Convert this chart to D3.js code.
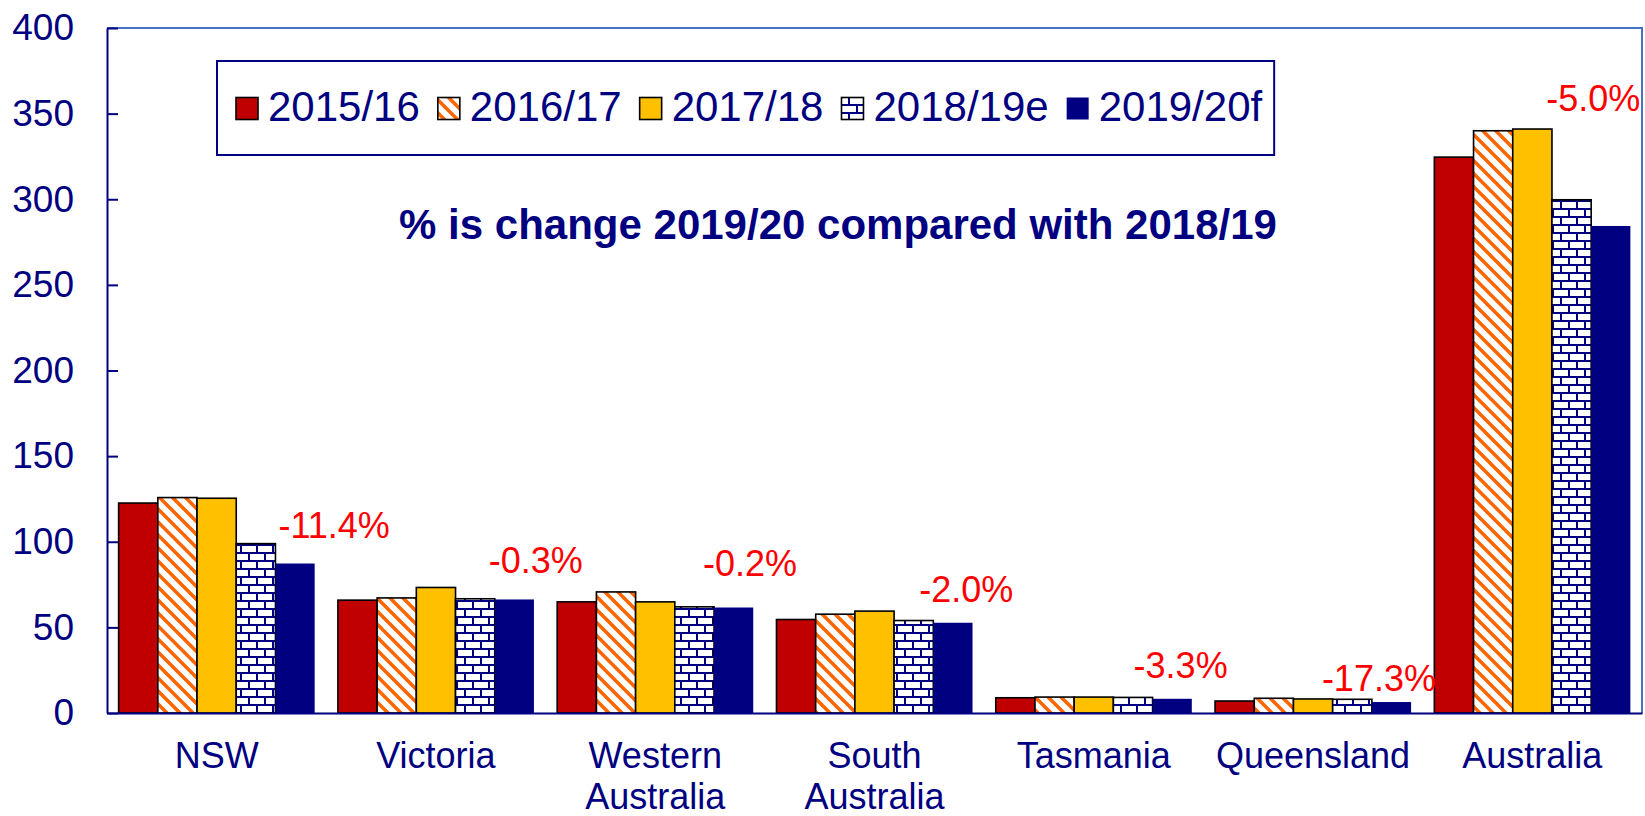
<!DOCTYPE html>
<html>
<head>
<meta charset="utf-8">
<script src="https://cdn.jsdelivr.net/npm/d3@7"></script>
<style>
  body { margin: 0; background: #fff; }
  text { font-family: "Liberation Sans", Arial, sans-serif; }
</style>
</head>
<body>
<div id="container"></div>
<script>
/* DATA */
const categories = ["NSW", "Victoria", "Western Australia", "South Australia", "Tasmania", "Queensland", "Australia"];
const seriesNames = ["2015/16", "2016/17", "2017/18", "2018/19e", "2019/20f"];
const v1516 = [122.6, 65.9, 64.9, 54.6, 8.9, 7.0, 324.6];
const v1617 = [125.8, 67.2, 70.7, 57.7, 9.3, 8.6, 340.0];
const v1718 = [125.4, 73.3, 64.9, 59.5, 9.3, 8.2, 341.0];
const v1819 = [98.9, 66.7, 62.0, 54.0, 9.1, 8.0, 299.7];
const v1920 = [87.3, 66.3, 61.6, 52.7, 8.3, 6.4, 284.4];
const changeLabels = ["-11.4%", "-0.3%", "-0.2%", "-2.0%", "-3.3%", "-17.3%", "-5.0%"];
const yTicks = [0, 50, 100, 150, 200, 250, 300, 350, 400];
const titleText = "% is change 2019/20 compared with 2018/19";

/* CONSTANTS AND GLOBALS */
const width = 1645, height = 816;
const plot = { left: 107, right: 1642, top: 28, bottom: 713 };
const navy = "#000080";
const seriesValues = [v1516, v1617, v1718, v1819, v1920];
const seriesFill = ["#C00000", "url(#hatch)", "#FFC000", "url(#brick)", navy];
const seriesStroke = ["#000", "#000", "#000", "#000", "none"];
// where each % label sits, relative to the top-left corner of its 2019/20f bar
const labelNudge = [[3, -25], [-6, -26], [-11, -32], [-14, -21], [-19, -21], [-50, -11], [-45, -115]];

const svg = d3.select("#container")
  .append("svg")
  .attr("width", width)
  .attr("height", height);

// PATTERNS
const defs = svg.append("defs");

const hatch = defs.append("pattern")
  .attr("id", "hatch")
  .attr("patternUnits", "userSpaceOnUse")
  .attr("width", 13)
  .attr("height", 13);
hatch.append("rect").attr("width", 13).attr("height", 13).attr("fill", "#fff");
hatch.append("path")
  .attr("d", "M-3.25,-3.25L16.25,16.25M-3.25,9.75L3.25,16.25M9.75,-3.25L16.25,3.25")
  .attr("stroke", "#FF6600")
  .attr("stroke-width", 3.6);

const brick = defs.append("pattern")
  .attr("id", "brick")
  .attr("patternUnits", "userSpaceOnUse")
  .attr("width", 16)
  .attr("height", 16);
brick.append("rect").attr("width", 16).attr("height", 16).attr("fill", "#fff");
brick.append("path")
  .attr("d", "M0,0H16V2H0ZM0,8H16V10H0ZM0,0H2V8H0ZM8,8H10V16H8Z")
  .attr("fill", navy);

// SCALES
const xScale = d3.scaleBand()
  .domain(categories)
  .range([plot.left, plot.right])
  .paddingInner(0.106)
  .paddingOuter(0.053);

const xInner = d3.scaleBand()
  .domain(seriesNames)
  .range([0, xScale.bandwidth()]);

const yScale = d3.scaleLinear()
  .domain([0, 400])
  .range([plot.bottom, plot.top]);

// TOP AND RIGHT BORDER
svg.append("path")
  .attr("d", `M${plot.left},${plot.top}H${plot.right}V${plot.bottom}`)
  .attr("fill", "none")
  .attr("stroke", "#4472C4")
  .attr("stroke-width", 2);

// BARS
seriesNames.forEach((name, s) => {
  svg.append("g")
    .selectAll("rect")
    .data(categories)
    .join("rect")
    .attr("x", d => xScale(d) + xInner(name))
    .attr("y", (d, i) => yScale(seriesValues[s][i]))
    .attr("width", xInner.bandwidth())
    .attr("height", (d, i) => yScale(0) - yScale(seriesValues[s][i]))
    .attr("fill", seriesFill[s])
    .attr("stroke", seriesStroke[s])
    .attr("stroke-width", 1.6);
});

// AXES
const yAxis = d3.axisLeft(yScale)
  .tickValues(yTicks)
  .tickSizeInner(-11)
  .tickSizeOuter(0)
  .tickPadding(33);

const yG = svg.append("g")
  .attr("transform", `translate(${plot.left},0)`)
  .call(yAxis);
yG.select(".domain").attr("stroke", navy).attr("stroke-width", 2);
yG.selectAll(".tick line").attr("stroke", navy).attr("stroke-width", 2);
yG.selectAll(".tick text")
  .attr("fill", navy)
  .style("font-size", "37px")
  .style("font-family", "'Liberation Sans', Arial, sans-serif");

const xAxis = d3.axisBottom(xScale).tickSize(0).tickSizeOuter(0);
const xG = svg.append("g")
  .attr("transform", `translate(0,${plot.bottom})`)
  .call(xAxis);
xG.select(".domain").attr("stroke", navy).attr("stroke-width", 2);
xG.selectAll(".tick text").each(function(d) {
  const t = d3.select(this);
  t.text(null).attr("y", 0).attr("dy", null)
    .attr("fill", navy)
    .style("font-size", "36px")
    .style("font-family", "'Liberation Sans', Arial, sans-serif");
  d.split(" ").forEach((word, k) => {
    t.append("tspan").attr("x", 0).attr("y", 55 + k * 41).text(word);
  });
});

// CHANGE LABELS
svg.append("g")
  .selectAll("text")
  .data(changeLabels)
  .join("text")
  .attr("x", (d, i) => xScale(categories[i]) + xInner(seriesNames[4]) + labelNudge[i][0])
  .attr("y", (d, i) => yScale(v1920[i]) + labelNudge[i][1])
  .attr("fill", "#FF0000")
  .style("font-size", "36px")
  .text(d => d);

// TITLE
svg.append("text")
  .attr("x", 838)
  .attr("y", 239)
  .attr("text-anchor", "middle")
  .attr("fill", navy)
  .style("font-size", "42px")
  .style("font-weight", "bold")
  .text(titleText);

// LEGEND
const legend = svg.append("g");
const legendBox = legend.append("rect")
  .attr("x", 217)
  .attr("y", 61)
  .attr("height", 94)
  .attr("fill", "#fff")
  .attr("stroke", navy)
  .attr("stroke-width", 2);

let lx = 236;
seriesNames.forEach((name, s) => {
  legend.append("rect")
    .attr("x", lx)
    .attr("y", 97.5)
    .attr("width", 22)
    .attr("height", 22)
    .attr("fill", seriesFill[s])
    .attr("stroke", seriesStroke[s])
    .attr("stroke-width", 1.6);
  const t = legend.append("text")
    .attr("x", lx + 32)
    .attr("y", 121)
    .attr("fill", navy)
    .style("font-size", "42px")
    .text(name);
  lx += 32 + t.node().getComputedTextLength() + 18;
});
legendBox.attr("width", lx - 18 + 12 - 217);
</script>
</body>
</html>
